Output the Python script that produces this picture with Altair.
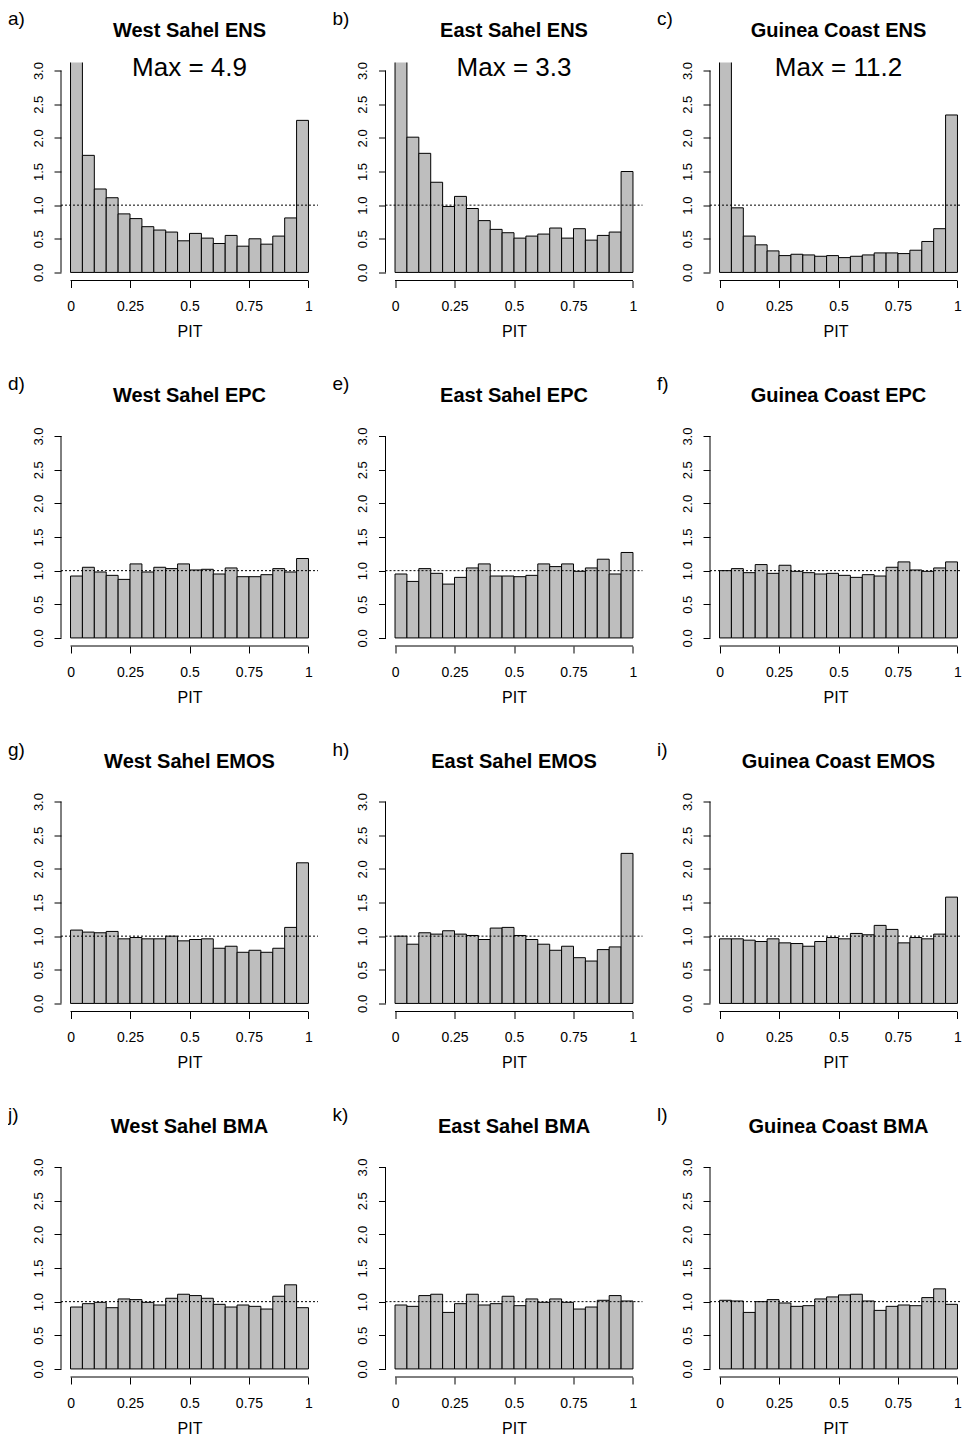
import altair as alt
import pandas as pd

# ---------------- data ----------------
BIN_EDGES = [0.00, 0.05, 0.10, 0.15, 0.20, 0.25, 0.30, 0.35, 0.40, 0.45, 0.50,
             0.55, 0.60, 0.65, 0.70, 0.75, 0.80, 0.85, 0.90, 0.95, 1.00]

REGIONS = ["West Sahel", "East Sahel", "Guinea Coast"]
METHODS = ["ENS", "EPC", "EMOS", "BMA"]
LETTERS = ["a)", "b)", "c)", "d)", "e)", "f)", "g)", "h)", "i)", "j)", "k)", "l)"]

ENS_WEST = [4.9, 1.74, 1.24, 1.11, 0.87, 0.80, 0.68, 0.63, 0.60, 0.47,
            0.58, 0.51, 0.43, 0.55, 0.39, 0.50, 0.42, 0.54, 0.81, 2.26]
ENS_EAST = [3.3, 2.01, 1.77, 1.34, 0.98, 1.13, 0.95, 0.77, 0.64, 0.59,
            0.51, 0.54, 0.57, 0.66, 0.51, 0.65, 0.48, 0.55, 0.60, 1.50]
ENS_GUIN = [11.2, 0.96, 0.54, 0.41, 0.32, 0.25, 0.27, 0.26, 0.24, 0.25,
            0.22, 0.24, 0.26, 0.29, 0.29, 0.28, 0.33, 0.46, 0.65, 2.34]

EPC_WEST = [0.92, 1.05, 0.98, 0.93, 0.87, 1.10, 0.98, 1.05, 1.03, 1.10,
            1.01, 1.02, 0.95, 1.04, 0.91, 0.91, 0.94, 1.03, 0.98, 1.18]
EPC_EAST = [0.95, 0.84, 1.03, 0.96, 0.80, 0.90, 1.04, 1.10, 0.92, 0.92,
            0.91, 0.93, 1.10, 1.06, 1.10, 0.99, 1.04, 1.17, 0.95, 1.27]
EPC_GUIN = [1.00, 1.03, 0.97, 1.09, 0.96, 1.08, 0.99, 0.97, 0.95, 0.96,
            0.93, 0.90, 0.94, 0.92, 1.05, 1.13, 1.01, 0.99, 1.04, 1.13]

EMOS_WEST = [1.09, 1.06, 1.05, 1.07, 0.96, 0.98, 0.96, 0.96, 1.00, 0.93,
             0.95, 0.96, 0.82, 0.85, 0.76, 0.79, 0.76, 0.82, 1.13, 2.09]
EMOS_EAST = [1.00, 0.88, 1.05, 1.03, 1.08, 1.03, 1.01, 0.95, 1.12, 1.13,
             1.01, 0.95, 0.88, 0.79, 0.85, 0.68, 0.63, 0.80, 0.84, 2.23]
EMOS_GUIN = [0.96, 0.96, 0.94, 0.92, 0.96, 0.90, 0.89, 0.85, 0.92, 0.98,
             0.96, 1.04, 1.02, 1.16, 1.10, 0.90, 0.98, 0.96, 1.03, 1.58]

BMA_WEST = [0.92, 0.97, 0.99, 0.91, 1.04, 1.03, 0.99, 0.95, 1.05, 1.11,
            1.09, 1.05, 0.96, 0.92, 0.95, 0.93, 0.89, 1.08, 1.25, 0.91]
BMA_EAST = [0.95, 0.93, 1.09, 1.11, 0.84, 0.97, 1.11, 0.95, 0.97, 1.08,
            0.94, 1.04, 0.99, 1.04, 0.99, 0.89, 0.92, 1.02, 1.09, 1.01]
BMA_GUIN = [1.02, 1.01, 0.84, 1.00, 1.03, 0.98, 0.93, 0.94, 1.04, 1.07,
            1.10, 1.11, 1.01, 0.87, 0.93, 0.95, 0.94, 1.06, 1.19, 0.96]

SERIES = {
    "ENS": [ENS_WEST, ENS_EAST, ENS_GUIN],
    "EPC": [EPC_WEST, EPC_EAST, EPC_GUIN],
    "EMOS": [EMOS_WEST, EMOS_EAST, EMOS_GUIN],
    "BMA": [BMA_WEST, BMA_EAST, BMA_GUIN],
}

X_TICKS = [0, 0.25, 0.5, 0.75, 1]
Y_TICKS = [0, 0.5, 1, 1.5, 2, 2.5, 3]
REF_LEVEL = [1.0]

# ---------------- style ----------------
FONT = "Liberation Sans"
W = 257            # plot-region width (x range -0.04 .. 1.04)
W_LAST = 251       # right column is cut at the page edge, as in the reference
H = 218
XMIN = -0.04
XMAX = 1.04
YDOM = [-0.12, 3.12]


def panel(vals, title, letter, max_label, width):
    xmax = XMIN + (XMAX - XMIN) * width / W
    df = pd.DataFrame({"x0": BIN_EDGES[:-1], "x1": BIN_EDGES[1:], "dens": vals})
    one = pd.DataFrame({"lvl": REF_LEVEL, "t": [title], "l": [letter], "m": [max_label]})

    bars = alt.Chart(df).mark_rect(
        clip=True, fill="#BEBEBE", stroke="black", strokeWidth=1
    ).encode(
        x=alt.X(
            "x0:Q",
            scale=alt.Scale(domain=[XMIN, xmax], nice=False, zero=False),
            axis=alt.Axis(
                values=X_TICKS, tickCount=5, labelExpr="'' + datum.value",
                domain=False, grid=False, tickSize=7, tickColor="black", tickWidth=1,
                labelFont=FONT, labelFontSize=14, labelColor="black", labelPadding=12,
                labelFlush=False, labelOverlap=False, title="PIT", titleFont=FONT,
                titleFontSize=16, titleFontWeight="normal", titleColor="black",
                titlePadding=10,
            ),
        ),
        x2="x1:Q",
        y=alt.Y(
            "dens:Q",
            scale=alt.Scale(domain=YDOM, nice=False, zero=False),
            axis=alt.Axis(
                values=Y_TICKS, tickCount=7, labelExpr="format(datum.value, '.1f')",
                domain=False, grid=False, tickSize=7, tickColor="black", tickWidth=1,
                labelFont=FONT, labelFontSize=13, labelColor="black", labelAngle=270,
                labelAlign="center", labelBaseline="bottom", labelPadding=9,
                labelFlush=False, labelOverlap=False,
            ),
            title=None,
        ),
        y2=alt.datum(0),
    )

    base1 = alt.Chart(one)
    ref = base1.mark_rule(color="black", strokeWidth=1, strokeDash=[2, 2]).encode(
        y=alt.Y("lvl:Q"), x=alt.value(0), x2=alt.value(width)
    )
    xline = base1.mark_rule(color="black", strokeWidth=1).encode(
        x=alt.datum(0), x2=alt.datum(1), y=alt.value(H)
    )
    yline = base1.mark_rule(color="black", strokeWidth=1).encode(
        y=alt.datum(0), y2=alt.datum(3), x=alt.value(0)
    )
    ttl = base1.mark_text(
        font=FONT, fontSize=20, fontWeight="bold", color="black",
        align="center", baseline="middle",
    ).encode(text="t:N", x=alt.datum(0.5), y=alt.value(-32))
    let = base1.mark_text(
        font=FONT, fontSize=19, color="black", align="left", baseline="middle",
    ).encode(text="l:N", x=alt.value(-53), y=alt.value(-44))

    layers = [bars, ref, xline, yline, ttl, let]
    if max_label:
        mx = base1.mark_text(
            font=FONT, fontSize=26, color="black", align="center", baseline="middle",
        ).encode(text="m:N", x=alt.datum(0.5), y=alt.datum(3.04))
        layers.append(mx)
    return alt.layer(*layers).properties(width=width, height=H)


panels = []
k = 0
for m in METHODS:
    for j, r in enumerate(REGIONS):
        vals = SERIES[m][j]
        ml = f"Max = {max(vals):.1f}" if m == "ENS" else ""
        width = W_LAST if j == 2 else W
        panels.append(panel(vals, f"{r} {m}", LETTERS[k], ml, width))
        k += 1

chart = alt.concat(
    *panels, columns=3, spacing={"row": 147.5, "column": 67.5}, bounds="flush"
).properties(
    padding={"left": 0, "top": 1.5, "right": 0, "bottom": 0},
    background="white",
).configure_view(stroke=None)

chart.save("out.html", embed_options={"renderer": "svg", "actions": False})
